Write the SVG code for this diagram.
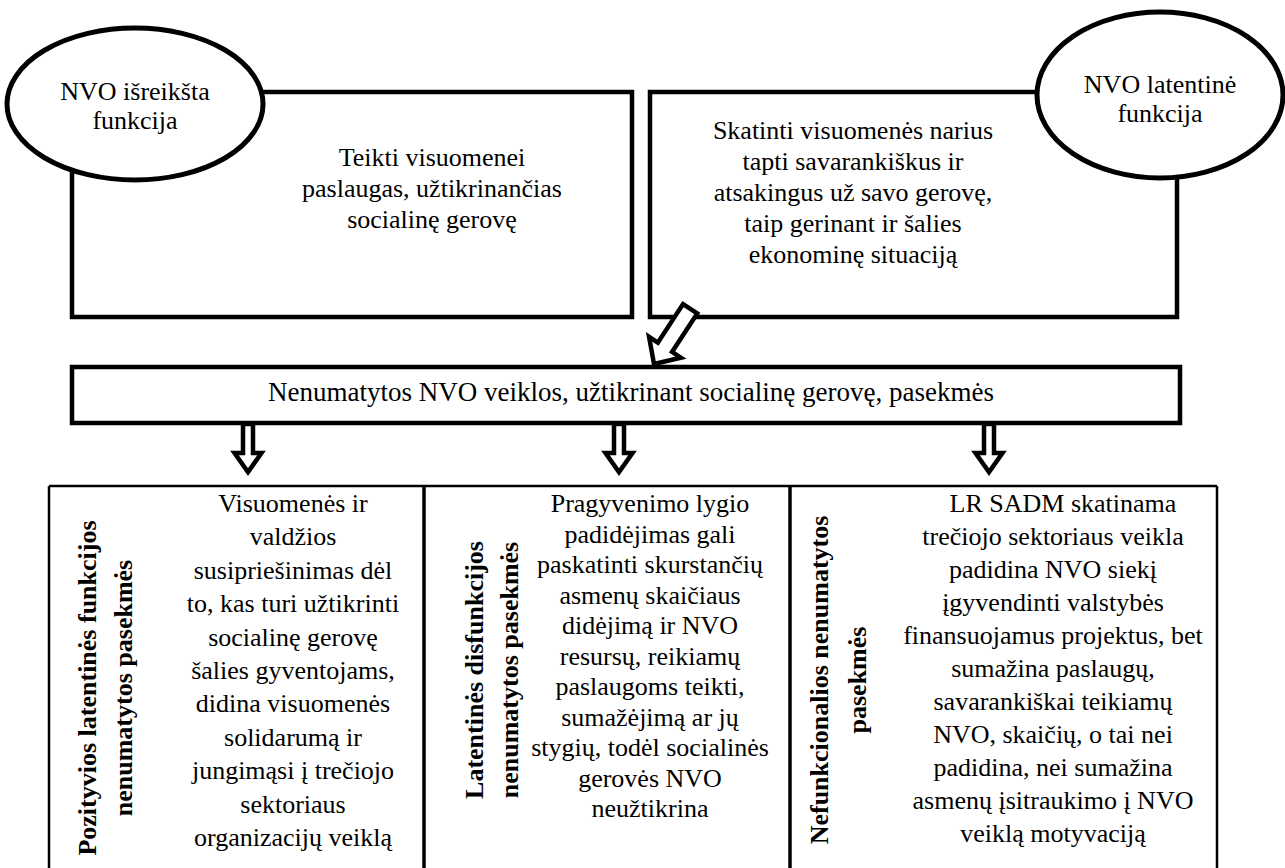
<svg xmlns="http://www.w3.org/2000/svg" xmlns:xlink="http://www.w3.org/1999/xlink" width="1285" height="868" viewBox="0 0 1285 868">
<style>
.box{fill:none;stroke:#000;stroke-width:4.5}
.ell{fill:#fff;stroke:#000;stroke-width:5}
.arr{fill:#fff;stroke:#000;stroke-width:4.5;stroke-linejoin:miter}
.grid{stroke:#000;fill:none}
.t{font-family:"Liberation Serif","Times New Roman",serif;font-size:26px;text-anchor:middle;fill:#000}
.b{font-weight:bold}
</style>
<defs>
<polygon id="da" class="arr" points="-5,424 5,424 5,453 13.5,453 0,472 -13.5,453 -5,453"/>
</defs>
<rect width="1285" height="868" fill="#fff"/>

<g id="node-expressed-box">
<rect class="box" x="72" y="92" width="560" height="225"/>
<text class="t"><tspan x="432" y="166">Teikti visuomenei</tspan><tspan x="432" y="197">paslaugas, užtikrinančias</tspan><tspan x="432" y="228">socialinę gerovę</tspan></text>
</g>

<g id="node-latent-box">
<rect class="box" x="650" y="92" width="527" height="225"/>
<text class="t"><tspan x="853" y="139">Skatinti visuomenės narius</tspan><tspan x="853" y="170">tapti savarankiškus ir</tspan><tspan x="853" y="201">atsakingus už savo gerovę,</tspan><tspan x="853" y="232">taip gerinant ir šalies</tspan><tspan x="853" y="263">ekonominę situaciją</tspan></text>
</g>

<g id="node-expressed-ellipse">
<ellipse class="ell" cx="135" cy="104" rx="128" ry="76"/>
<text class="t"><tspan x="135" y="100">NVO išreikšta</tspan><tspan x="135" y="129">funkcija</tspan></text>
</g>

<g id="node-latent-ellipse">
<ellipse class="ell" cx="1160" cy="95" rx="123" ry="83"/>
<text class="t"><tspan x="1160" y="93">NVO latentinė</tspan><tspan x="1160" y="122">funkcija</tspan></text>
</g>

<g id="node-consequences">
<rect class="box" x="72" y="367" width="1108" height="56"/>
<text class="t" x="631" y="401" style="font-size:27px">Nenumatytos NVO veiklos, užtikrinant socialinę gerovę, pasekmės</text>
</g>

<g id="node-table">
<path class="grid" stroke-width="2.5" d="M49,486 H1217 M49,486 V870 M1217,486 V870"/>
<path class="grid" stroke-width="3.5" d="M424,486 V870 M790,486 V870"/>
</g>

<g id="node-positive">
<g transform="translate(96,688) rotate(-90)">
<text class="t b" x="0" y="0">Pozityvios latentinės funkcijos</text>
<text class="t b" x="0" y="36">nenumatytos pasekmės</text>
</g>
<text class="t"><tspan x="293" y="512">Visuomenės ir</tspan><tspan x="293" y="545.4">valdžios</tspan><tspan x="293" y="578.8">susipriešinimas dėl</tspan><tspan x="293" y="612.2">to, kas turi užtikrinti</tspan><tspan x="293" y="645.6">socialinę gerovę</tspan><tspan x="293" y="679">šalies gyventojams,</tspan><tspan x="293" y="712.4">didina visuomenės</tspan><tspan x="293" y="745.8">solidarumą ir</tspan><tspan x="293" y="779.2">jungimąsi į trečiojo</tspan><tspan x="293" y="812.6">sektoriaus</tspan><tspan x="293" y="846">organizacijų veiklą</tspan></text>
</g>

<g id="node-dysfunction">
<g transform="translate(483,670) rotate(-90)">
<text class="t b" x="0" y="0">Latentinės disfunkcijos</text>
<text class="t b" x="0" y="35">nenumatytos pasekmės</text>
</g>
<text class="t"><tspan x="650" y="512">Pragyvenimo lygio</tspan><tspan x="650" y="542.5">padidėjimas gali</tspan><tspan x="650" y="573">paskatinti skurstančių</tspan><tspan x="650" y="603.5">asmenų skaičiaus</tspan><tspan x="650" y="634">didėjimą ir NVO</tspan><tspan x="650" y="664.5">resursų, reikiamų</tspan><tspan x="650" y="695">paslaugoms teikti,</tspan><tspan x="650" y="725.5">sumažėjimą ar jų</tspan><tspan x="650" y="756">stygių, todėl socialinės</tspan><tspan x="650" y="786.5">gerovės NVO</tspan><tspan x="650" y="817">neužtikrina</tspan></text>
</g>

<g id="node-nonfunctional">
<g transform="translate(828,680) rotate(-90)">
<text class="t b" x="0" y="0">Nefunkcionalios nenumatytos</text>
<text class="t b" x="0" y="38">pasekmės</text>
</g>
<text class="t"><tspan x="1063" y="512">LR SADM skatinama</tspan><tspan x="1053" y="545">trečiojo sektoriaus veikla</tspan><tspan x="1053" y="578">padidina NVO siekį</tspan><tspan x="1053" y="611">įgyvendinti valstybės</tspan><tspan x="1053" y="644">finansuojamus projektus, bet</tspan><tspan x="1053" y="677">sumažina paslaugų,</tspan><tspan x="1053" y="710">savarankiškai teikiamų</tspan><tspan x="1053" y="743">NVO, skaičių, o tai nei</tspan><tspan x="1053" y="776">padidina, nei sumažina</tspan><tspan x="1053" y="809">asmenų įsitraukimo į NVO</tspan><tspan x="1053" y="842">veiklą motyvaciją</tspan></text>
</g>

<g id="connectors">
<polygon class="arr" transform="translate(654,364) rotate(123.2)" points="0,0 -20,-19 -20,-8.5 -66,-8.5 -66,8.5 -20,8.5 -20,19"/>
<use xlink:href="#da" x="248"/>
<use xlink:href="#da" x="619"/>
<use xlink:href="#da" x="989"/>
</g>
</svg>
